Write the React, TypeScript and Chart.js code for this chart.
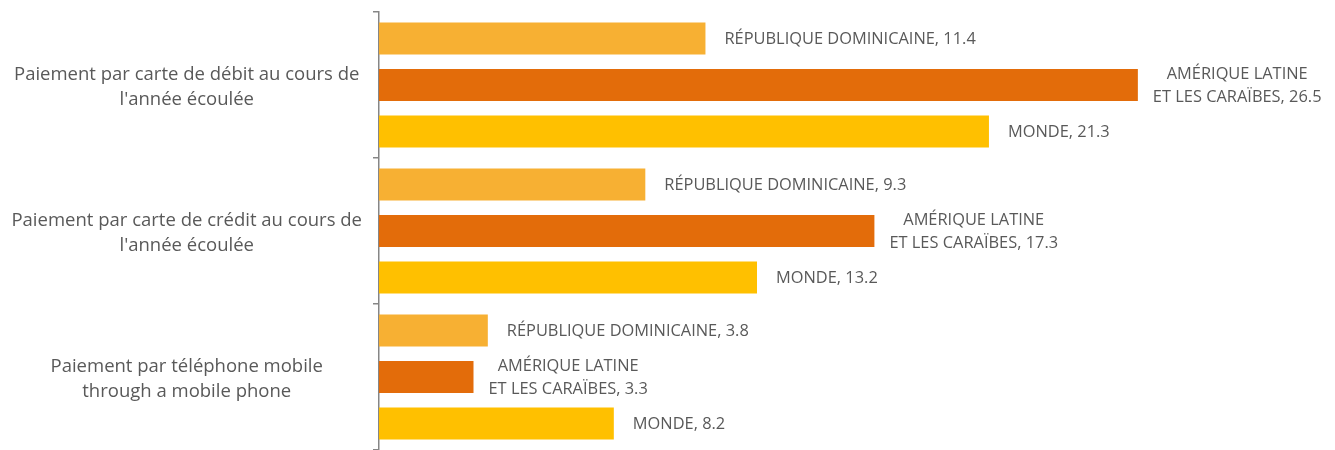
import React, { useEffect, useRef } from "react";
import { Chart, registerables } from "chart.js";

Chart.register(...registerables);

const categories: string[][] = [
  ["Paiement par carte de débit au cours de", "l'année écoulée"],
  ["Paiement par carte de crédit au cours de", "l'année écoulée"],
  ["Paiement par téléphone mobile", "through a mobile phone"],
];

const seriesNames: string[][] = [
  ["RÉPUBLIQUE DOMINICAINE"],
  ["AMÉRIQUE LATINE", "ET LES CARAÏBES"],
  ["MONDE"],
];

const republiqueDominicaine: number[] = [11.4, 9.3, 3.8];
const ameriqueLatine: number[] = [26.5, 17.3, 3.3];
const monde: number[] = [21.3, 13.2, 8.2];

const colors = ["#F7B033", "#E36C0A", "#FFC000"];
const FONT = "'Open Sans', 'Noto Sans', sans-serif";

const labelPlugin = {
  id: "barLabels",
  afterDatasetsDraw(chart: any) {
    const ctx = chart.ctx as CanvasRenderingContext2D;
    ctx.save();
    ctx.font = `16.4px ${FONT}`;
    ctx.fillStyle = "#595959";
    ctx.textBaseline = "middle";
    chart.data.datasets.forEach((ds: any, di: number) => {
      const meta = chart.getDatasetMeta(di);
      meta.data.forEach((el: any, i: number) => {
        const v = ds.data[i];
        const names = seriesNames[di];
        const lines = names.slice(0, -1).concat([names[names.length - 1] + ", " + v.toFixed(1)]);
        const widths = lines.map((l) => ctx.measureText(l).width);
        const widest = Math.max(...widths);
        const x0 = el.x + (lines.length > 1 ? 15 : 19);
        const lh = 23;
        const startY = el.y + 1 - ((lines.length - 1) * lh) / 2;
        lines.forEach((l, li) => {
          ctx.textAlign = "center";
          ctx.fillText(l, x0 + widest / 2, startY + li * lh);
        });
      });
    });
    ctx.restore();
  },
};

export default function App() {
  const ref = useRef<HTMLCanvasElement | null>(null);
  useEffect(() => {
    if (!ref.current) return;
    const chart = new Chart(ref.current, {
      type: "bar",
      data: {
        labels: categories as any,
        datasets: [
          { label: seriesNames[0].join(" "), data: republiqueDominicaine, backgroundColor: colors[0] },
          { label: seriesNames[1].join(" "), data: ameriqueLatine, backgroundColor: colors[1] },
          { label: seriesNames[2].join(" "), data: monde, backgroundColor: colors[2] },
        ],
      },
      options: {
        indexAxis: "y",
        animation: false,
        responsive: false,
        maintainAspectRatio: false,
        layout: { padding: { top: 12, right: 11, bottom: 0, left: 0 } },
        datasets: { bar: { categoryPercentage: 0.953, barPercentage: 0.69 } },
        plugins: { legend: { display: false }, tooltip: { enabled: false } },
        scales: {
          x: { display: false, min: 0, max: 33 },
          y: {
            afterFit: (s: any) => {
              s.width = 379;
              s.paddingTop = 0;
              s.paddingBottom = 0;
            },
            border: { display: true, color: "#868686", width: 1.5 },
            grid: { drawOnChartArea: false, drawTicks: true, tickLength: 6, color: "#868686", lineWidth: 1.5, offset: true },
            ticks: {
              crossAlign: "center",
              padding: 11,
              labelOffset: 2.5,
              color: "#595959",
              font: { family: FONT, size: 18.5, lineHeight: 1.35 },
            },
          },
        },
      },
      plugins: [labelPlugin],
    } as any);
    return () => chart.destroy();
  }, []);
  return (
    <div style={{ position: "fixed", left: 0, top: 0, width: 1335, height: 450, background: "#fff" }}>
      <canvas ref={ref} width={1335} height={450} />
    </div>
  );
}
